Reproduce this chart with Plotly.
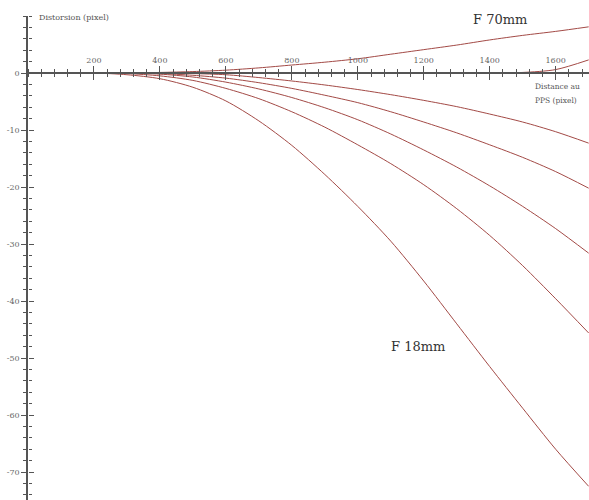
import plotly.graph_objects as go

# distance to PPS (pixel)
dist = [0, 100, 200, 300, 400, 500, 600, 700, 800, 900, 1000, 1100, 1200, 1300, 1400, 1500, 1600, 1700]

# distortion (pixel) for each focal length
dist_a = [0, 0, 0, 0, 0.1, 0.25, 0.5, 0.9, 1.4, 1.9, 2.5, 3.3, 4.1, 4.9, 5.8, 6.6, 7.3, 8.1]   # F 70mm
dist_b = [0, 0, 0, 0, 0, 0, 0, 0, 0, 0, 0, 0, 0, 0, 0, 0.1, 0.6, 2.3]
dist_c = [0, 0, 0, 0, 0, -0.1, -0.3, -0.8, -1.4, -2.1, -2.9, -3.8, -4.8, -5.9, -7.2, -8.6, -10.3, -12.3]
dist_d = [0, 0, 0, 0, -0.1, -0.4, -0.9, -1.7, -2.7, -3.9, -5.2, -6.8, -8.6, -10.5, -12.6, -14.8, -17.3, -20.2]
dist_e = [0, 0, 0, 0, -0.2, -0.7, -1.6, -2.8, -4.3, -6.1, -8.2, -10.7, -13.5, -16.5, -19.8, -23.4, -27.3, -31.6]
dist_f = [0, 0, 0, -0.1, -0.5, -1.3, -2.7, -4.5, -6.8, -9.5, -12.6, -15.9, -19.6, -23.8, -28.5, -33.8, -39.6, -45.6]
dist_g = [0, 0, 0, -0.3, -1.0, -2.5, -4.9, -8.4, -12.7, -17.8, -23.4, -29.5, -36.5, -44.0, -51.5, -58.8, -66.0, -72.5]  # F 18mm

curves = [dist_a, dist_b, dist_c, dist_d, dist_e, dist_f, dist_g]

x_ticks = [200, 400, 600, 800, 1000, 1200, 1400, 1600]
y_ticks = [0, -10, -20, -30, -40, -50, -60, -70]
y_labels = ["0", "-10", "-20", "-30", "-40", "-50", "-60", "-70"]

line_col = "#a34a46"
axis_col = "#555555"
serif = "DejaVu Serif"

fig = go.Figure()
for c in curves:
    fig.add_trace(go.Scatter(x=dist, y=c, mode="lines", line=dict(color=line_col, width=1, shape="spline", smoothing=0.8),
                             showlegend=False, hoverinfo="skip"))
# dummy trace for the second (mirrored tick) axes
fig.add_trace(go.Scatter(x=[None], y=[None], xaxis="x2", yaxis="y2", showlegend=False))

y_lo, y_hi = -74.9, 10.0
x_lo, x_hi = 0, 1701
x_pos = (0 - y_lo) / (y_hi - y_lo)

minor_x = dict(dtick=40, tick0=0, ticks="outside", ticklen=3, tickcolor=axis_col, tickwidth=1)
minor_y = dict(dtick=2, tick0=0, ticks="outside", ticklen=3, tickcolor=axis_col, tickwidth=1)

fig.update_layout(
    width=589, height=500,
    margin=dict(l=28, r=0, t=16, b=0),
    paper_bgcolor="white", plot_bgcolor="white",
    font=dict(family=serif, size=8, color="#666666"),
    xaxis=dict(range=[x_lo, x_hi], anchor="free", position=x_pos, side="top", automargin=False,
               showgrid=False, zeroline=False, showline=True, linecolor=axis_col, linewidth=1.5,
               tickvals=x_ticks, ticks="outside", ticklen=6, tickwidth=1.2, tickcolor=axis_col,
               minor=minor_x, tickfont=dict(size=8, color="#666666")),
    yaxis=dict(range=[y_lo, y_hi], automargin=False, showgrid=False, zeroline=False, showline=True,
               linecolor=axis_col, linewidth=1.5,
               tickvals=y_ticks, ticktext=y_labels, ticks="outside", ticklen=5, tickwidth=1.2,
               tickcolor=axis_col, minor=minor_y, tickfont=dict(size=8, color="#666666")),
    xaxis2=dict(range=[x_lo, x_hi], overlaying="x", anchor="free", position=x_pos, side="bottom",
                automargin=False, showgrid=False, zeroline=False, showline=False, showticklabels=False,
                tickvals=x_ticks, ticks="outside", ticklen=6, tickwidth=1.2, tickcolor=axis_col,
                minor=minor_x),
    yaxis2=dict(range=[y_lo, y_hi], overlaying="y", anchor="free", position=0, side="right",
                automargin=False, showgrid=False, zeroline=False, showline=False, showticklabels=False,
                tickvals=y_ticks, ticks="outside", ticklen=5, tickwidth=1.2, tickcolor=axis_col,
                minor=minor_y),
)

fig.add_annotation(x=27, y=9.8, text="Distorsion (pixel)", showarrow=False, xanchor="left",
                   font=dict(family=serif, size=8, color="#555555"))
fig.add_annotation(x=1530, y=-2.3, text="Distance au", showarrow=False, xanchor="left",
                   font=dict(family=serif, size=7.5, color="#555555"))
fig.add_annotation(x=1530, y=-4.8, text="PPS (pixel)", showarrow=False, xanchor="left",
                   font=dict(family=serif, size=7.5, color="#555555"))
fig.add_annotation(x=1432, y=9.3, text="F 70mm", showarrow=False,
                   font=dict(family=serif, size=13, color="#333333"))
fig.add_annotation(x=1183, y=-48, text="F 18mm", showarrow=False,
                   font=dict(family=serif, size=13, color="#333333"))

# drop the default page margin so the figure sits at the window corner
fig.write_html("out.html", config={"displayModeBar": False},
               post_script="document.body.style.margin='0';document.body.style.overflow='hidden';")
